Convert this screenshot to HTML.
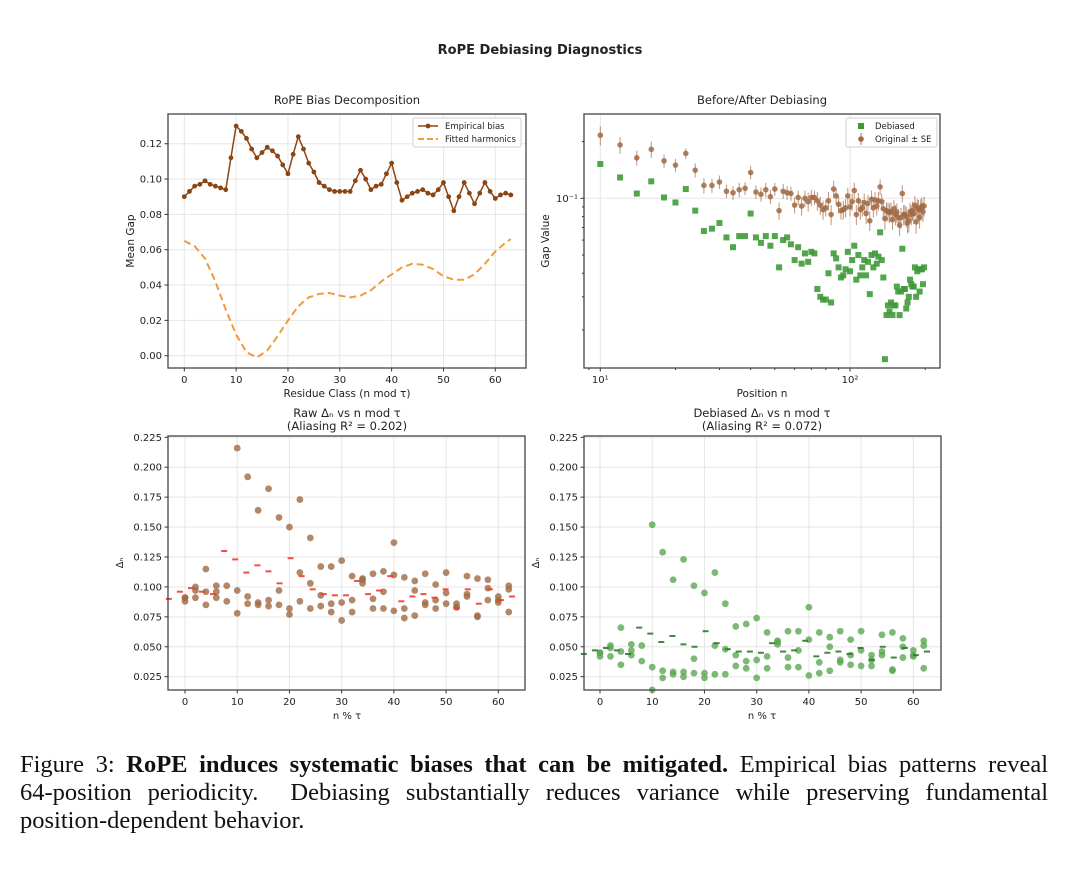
<!DOCTYPE html>
<html><head><meta charset="utf-8"><style>
html,body{margin:0;padding:0;background:#fff;width:1080px;height:896px;overflow:hidden}
svg{position:absolute;left:0;top:0}
svg text{font-family:"DejaVu Sans","Liberation Sans",sans-serif;fill:#222}
#caption{position:absolute;left:20px;top:751px;width:1028px;font-family:"Liberation Serif",serif;font-size:24.5px;line-height:28px;color:#111}
#caption span{display:block;white-space:nowrap;text-align:justify;text-align-last:justify}
#caption span.last{text-align-last:left}
</style></head><body>
<svg id="fig" width="1080" height="896" viewBox="0 0 1080 896" xmlns="http://www.w3.org/2000/svg"></svg>
<div id="caption"><span>Figure 3: <b>RoPE induces systematic biases that can be mitigated.</b> Empirical bias patterns reveal</span><span>64-position periodicity. &nbsp;Debiasing substantially reduces variance while preserving fundamental</span><span class="last">position-dependent behavior.</span></div>
<script>
// ---- data ----
const residues64 = [0,1,2,3,4,5,6,7,8,9,10,11,12,13,14,15,16,17,18,19,20,21,22,23,24,25,26,27,28,29,30,31,32,33,34,35,36,37,38,39,40,41,42,43,44,45,46,47,48,49,50,51,52,53,54,55,56,57,58,59,60,61,62,63];
const empiricalBias = [.090,.093,.096,.097,.099,.097,.096,.095,.094,.112,.130,.127,.123,.117,.112,.115,.118,.116,.113,.108,.103,.114,.124,.117,.109,.104,.098,.096,.094,.093,.093,.093,.093,.099,.105,.100,.094,.096,.097,.103,.109,.098,.088,.090,.092,.093,.094,.092,.091,.094,.098,.090,.082,.090,.098,.092,.086,.092,.098,.093,.089,.091,.092,.091];
const debiasedBias = [.044,.046,.047,.048,.049,.048,.047,.046,.044,.055,.066,.063,.061,.057,.054,.056,.059,.057,.052,.049,.050,.057,.063,.058,.053,.050,.048,.047,.046,.046,.046,.045,.045,.049,.053,.050,.046,.046,.047,.051,.055,.048,.042,.043,.045,.046,.046,.045,.044,.046,.049,.044,.039,.044,.050,.045,.041,.045,.049,.046,.043,.044,.046,.046];
const fitResidues = [0,2,4,6,8,10,12,14,16,18,20,22,24,26,28,30,32,34,36,38,40,42,44,46,48,50,52,54,56,58,60,62,63];
const fittedHarmonics = [.065,.062,.055,.042,.026,.012,.002,-.001,.003,.011,.020,.028,.033,.035,.0355,.034,.033,.034,.037,.042,.046,.050,.052,.0515,.049,.045,.043,.043,.046,.052,.059,.064,.066];
const positions = [10,12,14,16,18,20,22,24,26,28,30,32,34,36,38,40,42,44,46,48,50,52,54,56,58,60,62,64,66,68,70,72,74,76,78,80,82,84,86,88,90,92,94,96,98,100,102,104,106,108,110,112,114,116,118,120,122,124,126,128,130,132,134,136,138,140,142,144,146,148,150,152,154,156,158,160,162,164,166,168,170,172,174,176,178,180,182,184,186,188,190,192,194,196,198];
const rawDelta = [.216,.192,.164,.182,.158,.150,.173,.141,.117,.117,.122,.109,.107,.111,.113,.137,.108,.105,.111,.102,.112,.086,.109,.107,.106,.092,.101,
.091,.100,.096,.101,.101,.097,.092,.087,.089,.097,.082,.112,.103,.093,.086,.087,.089,.103,.090,.096,.110,.082,.097,.087,.089,.095,.083,.094,.076,.099,.089,.098,
.091,.097,.115,.096,.088,.078,.086,.085,.084,.085,.077,.088,.082,.084,.079,.072,.079,.106,.082,.082,.080,.074,.076,.085,.082,.086,.083,.092,.075,.089,.087,.079,
.088,.091,.085,.091];
const rawSE = [.025,.020,.015,.018,.013,.012,.011,.012,.011,.010,.010,.009,.009,.010,.009,.011,.009,.009,.010,.009,.009,.009,.010,.009,.009,.009,.009,
.010,.010,.011,.010,.009,.011,.010,.010,.009,.011,.010,.012,.010,.010,.009,.010,.010,.011,.010,.010,.011,.010,.010,.010,.009,.011,.010,.010,.009,.011,.010,.010,
.010,.011,.011,.010,.010,.010,.009,.010,.010,.010,.009,.010,.010,.010,.009,.009,.010,.011,.010,.010,.010,.009,.010,.010,.010,.010,.010,.011,.010,.010,.011,.010,
.011,.010,.010,.011];
const debDelta = [.152,.129,.106,.123,.101,.095,.112,.086,.067,.069,.074,.062,.055,.063,.063,.083,.062,.058,.063,.056,.063,.043,.060,.062,.057,.047,.055,
.045,.051,.046,.052,.051,.033,.030,.029,.029,.040,.028,.051,.048,.043,.038,.039,.042,.052,.041,.047,.056,.037,.050,.039,.043,.047,.039,.046,.031,.050,.043,.051,
.045,.049,.066,.047,.038,.014,.024,.027,.025,.028,.024,.027,.027,.034,.032,.024,.032,.054,.033,.033,.026,.028,.030,.037,.035,.034,.034,.043,.030,.041,.042,.032,
.042,.042,.035,.043];
const tlYTicks = [0,0.02,0.04,0.06,0.08,0.10,0.12];
const resXTicks = [0,10,20,30,40,50,60];
const botYTicks = [0.025,0.05,0.075,0.1,0.125,0.15,0.175,0.2,0.225];

// ---- helpers ----
const NS='http://www.w3.org/2000/svg';
const svg=document.getElementById('fig');
function mk(tag,attrs,parent){const e=document.createElementNS(NS,tag);for(const k in attrs)e.setAttribute(k,attrs[k]);(parent||svg).appendChild(e);return e;}
function txt(s,attrs,parent){const e=mk('text',attrs,parent);e.textContent=s;return e;}

const TL={l:168,r:526,t:114,b:368,x:v=>184.3+5.183*v,y:v=>355.7-v*1766.5};
const TR={l:584,r:940,t:114,b:368,x:n=>600.3+249.7*(Math.log10(n)-1),y:v=>198.3-188.4*Math.log10(v/0.1)};
const BL={l:168,r:525,t:436,b:690,x:v=>185+5.222*v,y:v=>676.7-(v-0.025)*1197};
const BR={l:584,r:941,t:436,b:690,x:v=>600+5.222*v,y:v=>676.7-(v-0.025)*1197};

function panel(name,A){const g=mk('g',{});return g;}
function frame(g,A){const f=mk('rect',{x:A.l,y:A.t,width:A.r-A.l,height:A.b-A.t,fill:'none',stroke:'#444','stroke-width':1.3},g);
}
function linearAxes(g,A,xt,yt,yfmt){
 xt.forEach(v=>{const X=A.x(v);
  const gl=mk('line',{x1:X,x2:X,y1:A.t,y2:A.b,stroke:'#e6e6e6','stroke-width':1},g);
  mk('line',{x1:X,x2:X,y1:A.b,y2:A.b+3.5,stroke:'#333'},g);
  const t=txt(String(v),{x:X,y:A.b+15,'font-size':10,'text-anchor':'middle'},g);});
 yt.forEach(v=>{const Y=A.y(v);
  const gl=mk('line',{x1:A.l,x2:A.r,y1:Y,y2:Y,stroke:'#e6e6e6','stroke-width':1},g);
  mk('line',{x1:A.l-3.5,x2:A.l,y1:Y,y2:Y,stroke:'#333'},g);
  const t=txt(v.toFixed(yfmt),{x:A.l-6,y:Y+3.5,'font-size':10,'text-anchor':'end'},g);});
}

const st=txt('RoPE Debiasing Diagnostics',{x:540,y:54,'font-size':13,'font-weight':'bold','text-anchor':'middle'});


// ===== TL =====
(function(){const A=TL;const g=panel('bias-decomposition-panel',A);
 linearAxes(g,A,resXTicks,tlYTicks,2);
 const t=txt('RoPE Bias Decomposition',{x:347,y:104,'font-size':11.5,'text-anchor':'middle'},g);
 const xl=txt('Residue Class (n mod τ)',{x:347,y:397,'font-size':10.5,'text-anchor':'middle'},g);
 const yl=txt('Mean Gap',{x:0,y:0,'font-size':10.5,'text-anchor':'middle',transform:'translate(134,241) rotate(-90)'},g);
 const fp=fitResidues.map((r,i)=>A.x(r).toFixed(1)+','+A.y(fittedHarmonics[i]).toFixed(1)).join(' ');
 const fl=mk('polyline',{points:fp,fill:'none',stroke:'#f39a3c','stroke-width':2,'stroke-dasharray':'7,4'},g);
 const ep=residues64.map((r,i)=>A.x(r).toFixed(1)+','+A.y(empiricalBias[i]).toFixed(1)).join(' ');
 const el=mk('polyline',{points:ep,fill:'none',stroke:'#8b4513','stroke-width':1.5},g);
 residues64.forEach((r,i)=>{const c=mk('circle',{cx:A.x(r),cy:A.y(empiricalBias[i]),r:2.4,fill:'#8b4513'},g);});
 frame(g,A);
 const lg=mk('g',{},g);
 mk('rect',{x:413,y:118,width:108,height:29,rx:2,fill:'#fff','fill-opacity':0.85,stroke:'#d0d0d0'},lg);
 mk('line',{x1:418,x2:438,y1:126,y2:126,stroke:'#8b4513','stroke-width':1.5},lg);mk('circle',{cx:428,cy:126,r:2.4,fill:'#8b4513'},lg);
 const l1=txt('Empirical bias',{x:445,y:129,'font-size':8.5},lg);
 mk('line',{x1:418,x2:438,y1:139,y2:139,stroke:'#f39a3c','stroke-width':2,'stroke-dasharray':'6,3'},lg);
 const l2=txt('Fitted harmonics',{x:445,y:142,'font-size':8.5},lg);
})();

// ===== TR =====
(function(){const A=TR;const g=panel('before-after-panel',A);
 [10,100].forEach((v,i)=>{const X=A.x(v);
  const gl=mk('line',{x1:X,x2:X,y1:A.t,y2:A.b,stroke:'#e6e6e6'},g);
  mk('line',{x1:X,x2:X,y1:A.b,y2:A.b+3.5,stroke:'#333'},g);
  const t=txt(i?'10²':'10¹',{x:X,y:A.b+15,'font-size':10,'text-anchor':'middle'},g);});
 [9,20,30,40,50,60,70,80,90,200].forEach(v=>{const X=A.x(v);mk('line',{x1:X,x2:X,y1:A.b,y2:A.b+2,stroke:'#333'},g);});
 const Y1=A.y(0.1);
 const gy=mk('line',{x1:A.l,x2:A.r,y1:Y1,y2:Y1,stroke:'#e6e6e6'},g);
 mk('line',{x1:A.l-3.5,x2:A.l,y1:Y1,y2:Y1,stroke:'#333'},g);
 const yt=txt('10⁻¹',{x:A.l-6,y:Y1+3.5,'font-size':10,'text-anchor':'end'},g);
 [0.02,0.03,0.04,0.05,0.06,0.07,0.08,0.09,0.2].forEach(v=>{const Y=A.y(v);mk('line',{x1:A.l-2,x2:A.l,y1:Y,y2:Y,stroke:'#333'},g);});
 const t=txt('Before/After Debiasing',{x:762,y:104,'font-size':11.5,'text-anchor':'middle'},g);
 const xl=txt('Position n',{x:762,y:397,'font-size':10.5,'text-anchor':'middle'},g);
 const yl=txt('Gap Value',{x:0,y:0,'font-size':10.5,'text-anchor':'middle',transform:'translate(549,241) rotate(-90)'},g);
 positions.forEach((n,i)=>{const X=A.x(n);
  const s=mk('rect',{x:X-3,y:A.y(debDelta[i])-3,width:6,height:6,fill:'#3f9a3a','fill-opacity':0.9},g);});
 positions.forEach((n,i)=>{const X=A.x(n);
  const e=mk('line',{x1:X,x2:X,y1:A.y(rawDelta[i]+rawSE[i]),y2:A.y(rawDelta[i]-rawSE[i]),stroke:'#a8704a','stroke-width':1,'stroke-opacity':0.75},g);
  const c=mk('circle',{cx:X,cy:A.y(rawDelta[i]),r:2.8,fill:'#a06a44','fill-opacity':0.85},g);});
 frame(g,A);
 const lg=mk('g',{},g);
 mk('rect',{x:846,y:118,width:91,height:29,rx:2,fill:'#fff','fill-opacity':0.85,stroke:'#d0d0d0'},lg);
 mk('rect',{x:858,y:123,width:6,height:6,fill:'#3f9a3a'},lg);
 const l1=txt('Debiased',{x:875,y:129,'font-size':8.5},lg);
 mk('line',{x1:861,x2:861,y1:133,y2:145,stroke:'#a8704a'},lg);mk('circle',{cx:861,cy:139,r:2.8,fill:'#a06a44'},lg);
 const l2=txt('Original ± SE',{x:875,y:142,'font-size':8.5},lg);
})();

// ===== bottom panels =====
function scatterPanel(name,A,cx,title1,title2,vals,bias,dotColor,dashColor){
 const g=panel(name,A);
 linearAxes(g,A,resXTicks,botYTicks,3);
 const t1=txt(title1,{x:cx,y:417,'font-size':11.5,'text-anchor':'middle'},g);
 const t2=txt(title2,{x:cx,y:430,'font-size':11.5,'text-anchor':'middle'},g);
 const xl=txt('n % τ',{x:cx,y:719,'font-size':10,'text-anchor':'middle'},g);
 const yl=txt('Δₙ',{x:0,y:0,'font-size':10,'text-anchor':'middle',transform:'translate('+(A.l-45)+',563) rotate(-90)'},g);
 positions.forEach((n,i)=>{const c=mk('circle',{cx:A.x(n%64),cy:A.y(vals[i]),r:3.4,fill:dotColor,'fill-opacity':0.8},g);});
 residues64.forEach((r,i)=>{if(r%2)return;
  const X=A.x(-3.1+r*1.06),Y=A.y(bias[i]);
  const d=mk('line',{x1:X-3,x2:X+3,y1:Y,y2:Y,stroke:dashColor,'stroke-width':2,'stroke-opacity':0.9},g);
  
  });
 frame(g,A);
}
scatterPanel('raw-delta-panel',BL,347,'Raw Δₙ vs n mod τ','(Aliasing R² = 0.202)',rawDelta,empiricalBias,'#a06a44','#ee3b32');
scatterPanel('debiased-delta-panel',BR,762,'Debiased Δₙ vs n mod τ','(Aliasing R² = 0.072)',debDelta,debiasedBias,'#5aa852','#2f7a2c');
</script>
</body></html>
